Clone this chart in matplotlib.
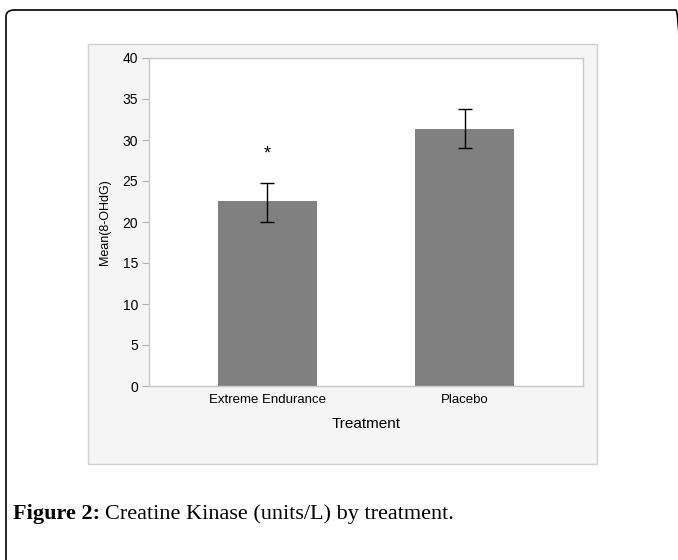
import matplotlib
matplotlib.use("Agg")
import matplotlib.pyplot as plt
from matplotlib.patches import FancyBboxPatch, Rectangle

categories = ["Extreme Endurance", "Placebo"]
means = [22.5, 31.4]
err_low = [20.0, 29.0]
err_high = [24.8, 33.8]
yticks = [0, 5, 10, 15, 20, 25, 30, 35, 40]
star_y = 28.3

W, H = 678, 560
fig = plt.figure(figsize=(W/100, H/100), dpi=100)
fig.patch.set_facecolor("white")

# outer rounded border
border = FancyBboxPatch((6/W, -0.05), 1.0, 1 - 10/H + 0.05,
                        boxstyle="round,pad=0,rounding_size=0.012",
                        transform=fig.transFigure, fill=False,
                        edgecolor="black", linewidth=1.2, zorder=-2)
fig.patches.append(border)

# gray panel
px0, px1, py0, py1 = 88, 597, 44, 464
panel = Rectangle((px0/W, 1 - py1/H), (px1-px0)/W, (py1-py0)/H,
                  transform=fig.transFigure, facecolor="#f5f5f5",
                  edgecolor="#d0d0d0", linewidth=1.0, zorder=-1)
fig.patches.append(panel)

ax0, ax1, ay0, ay1 = 149, 583, 58, 386
ax = fig.add_axes([ax0/W, 1 - ay1/H, (ax1-ax0)/W, (ay1-ay0)/H])
ax.set_zorder(2)
ax.set_facecolor("white")

x = list(range(len(categories)))
ax.bar(x, means, width=0.5, color="#808080", edgecolor="none", zorder=2)
yerr = [[m - l for m, l in zip(means, err_low)], [h - m for m, h in zip(means, err_high)]]
ax.errorbar(x, means, yerr=yerr, fmt="none", ecolor="black", elinewidth=1.0,
            capsize=5, capthick=1.0, zorder=3)
ax.text(0, star_y, "*", ha="center", va="center", fontsize=13, family="Liberation Sans")

ax.set_xlim(-0.6, 1.6)
ax.set_ylim(0, 40)
ax.set_yticks(yticks)
ax.set_xticks(x)
ax.set_xticklabels(categories, fontsize=9.5, family="Liberation Sans")
for lab in ax.get_yticklabels():
    lab.set_family("Liberation Sans")
    lab.set_fontsize(10)
ax.tick_params(axis="x", length=0, pad=6)
ax.tick_params(axis="y", length=5, color="#b0b0b0", pad=3)
for s in ax.spines.values():
    s.set_color("#c8c8c8")
    s.set_linewidth(1.0)

ax.set_xlabel("Treatment", fontsize=11, family="Liberation Sans", labelpad=8)
ax.set_ylabel("Mean(8-OHdG)", fontsize=9, family="Liberation Sans", labelpad=8)

# caption
cap_size = 16
t1 = fig.text(13/W, 1 - 519/H, "Figure 2:", fontsize=cap_size, fontweight="bold",
              family="Liberation Serif", va="baseline", ha="left")
fig.canvas.draw()
bb = t1.get_window_extent()
fig.text((bb.x1 + 5)/W, 1 - 519/H, "Creatine Kinase (units/L) by treatment.",
         fontsize=cap_size, family="Liberation Serif", va="baseline", ha="left")

fig.savefig("out.png", dpi=100, facecolor="white")
